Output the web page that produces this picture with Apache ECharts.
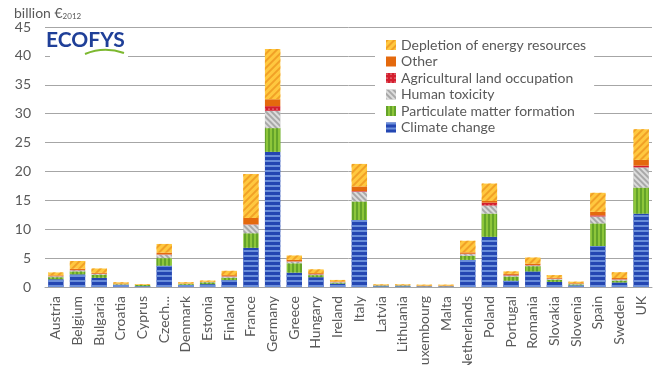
<!DOCTYPE html>
<html><head><meta charset="utf-8">
<script src="https://cdn.jsdelivr.net/npm/echarts@6/dist/echarts.min.js"></script>
<style>html,body{margin:0;padding:0;background:#fff}#c{width:670px;height:365px}</style>
</head><body><div id="c"></div>
<script>
const countries = ['Austria','Belgium','Bulgaria','Croatia','Cyprus','Czech...','Denmark','Estonia','Finland','France','Germany','Greece','Hungary','Ireland','Italy','Latvia','Lithuania','Luxembourg','Malta','Netherlands','Poland','Portugal','Romania','Slovakia','Slovenia','Spain','Sweden','UK'];
const climate   = [1.35,2.2,1.6,0.35,0.15,3.7,0.35,0.5,1.2,6.8,23.4,2.5,1.7,0.6,11.6,0.15,0.15,0.1,0.1,4.7,8.7,1.1,2.7,0.9,0.3,7.1,0.8,12.7];
const particulate = [0.35,0.5,0.5,0.1,0.2,1.3,0.15,0.3,0.4,2.5,4.1,1.6,0.35,0.15,3.2,0.1,0.1,0.02,0.02,0.7,4.0,0.7,0.9,0.35,0.15,3.9,0.3,4.5];
const toxicity  = [0.15,0.2,0.15,0.05,0,0.6,0.05,0.05,0.2,1.5,3.0,0.3,0.15,0.1,1.7,0.05,0.05,0.03,0.03,0.3,1.4,0.2,0.15,0.15,0.1,1.2,0.2,3.5];
const agri      = [0.02,0.05,0.05,0.01,0.01,0.05,0.02,0.01,0.05,0.05,0.8,0.05,0.05,0.02,0.1,0.01,0.01,0,0,0.05,0.5,0.1,0.05,0.05,0.02,0.2,0.05,0.3];
const other     = [0.15,0.2,0.15,0.1,0.02,0.3,0.05,0.05,0.2,1.1,1.2,0.25,0.15,0.1,0.8,0.05,0.05,0.1,0.1,0.25,0.3,0.2,0.25,0.15,0.1,0.6,0.2,1.0];
const depletion = [0.5,1.35,0.75,0.2,0.12,1.5,0.2,0.2,0.75,7.6,8.7,0.75,0.65,0.25,3.9,0.1,0.1,0.15,0.15,2.0,3.0,0.4,1.05,0.45,0.25,3.3,1.0,5.3];
const yTicks = [0,5,10,15,20,25,30,35,40,45];

const names = ['Climate change','Particulate matter formation','Human toxicity','Agricultural land occupation','Other','Depletion of energy resources'];
const styles = [
  {color:'#2446B2', decal:{symbol:'rect',symbolSize:1,symbolKeepAspect:false,color:'#6A8EDA',dashArrayX:[1,0],dashArrayY:[1.5,2.3]}},
  {color:'#8DC63A', decal:{symbol:'rect',symbolSize:1,symbolKeepAspect:false,color:'#64A32A',dashArrayX:[1.4,2],dashArrayY:[1,0]}},
  {color:'#A8A8A8', decal:{symbol:'rect',symbolSize:1,symbolKeepAspect:false,color:'rgba(255,255,255,0.6)',dashArrayX:[1,0],dashArrayY:[1.5,2],rotation:Math.PI/4}},
  {color:'#D41E2E', decal:{symbol:'circle',symbolSize:0.6,color:'#ffffff',dashArrayX:[2,2],dashArrayY:[2,2]}},
  {color:'#E4690D'},
  {color:'#FFC83F', decal:{symbol:'rect',symbolSize:1,symbolKeepAspect:false,color:'#F1A126',dashArrayX:[1,0],dashArrayY:[1.3,2.2],rotation:-Math.PI/4}}
];
const dataArr = [climate, particulate, toxicity, agri, other, depletion];

const chart = echarts.init(document.getElementById('c'), null, {renderer:'canvas'});
const font = 'Lato, "Open Sans", sans-serif';
chart.setOption({
  animation:false,
  textStyle:{fontFamily:font},
  grid:{left:45,right:18,top:27,bottom:78,outerBoundsMode:'none',containLabel:false},
  legend:{
    orient:'vertical', left:375, top:34, padding:[4,8,4,11],
    backgroundColor:'#ffffff', icon:'rect', itemWidth:10, itemHeight:10, itemGap:2.5,
    textStyle:{fontSize:14,color:'#595959',lineHeight:13,fontFamily:font},
    data:names.slice().reverse()
  },
  xAxis:{
    type:'category', data:countries,
    axisLine:{lineStyle:{color:'#A6A6A6'}}, axisTick:{show:false},
    axisLabel:{rotate:90,interval:0,fontSize:14,color:'#595959',margin:9,fontFamily:font}
  },
  yAxis:{
    type:'value', min:yTicks[0], max:yTicks[yTicks.length-1], interval:5,
    axisLine:{show:false}, axisTick:{show:false},
    splitLine:{lineStyle:{color:'#A6A6A6'}},
    axisLabel:{fontSize:14,color:'#595959',margin:14,fontFamily:font}
  },
  series: names.map((n,i)=>({
    name:n, type:'bar', stack:'total', data:dataArr[i], barCategoryGap:'29%',
    itemStyle:styles[i]
  })),
  graphic:[
    {type:'text', left:14, top:6, style:{text:'{a|billion €}{s|2012}', fill:'#595959', font:'14px '+font,
      rich:{a:{fontSize:14,fill:'#595959',fontFamily:font,lineHeight:16,verticalAlign:'bottom'},
            s:{fontSize:8,fill:'#595959',fontFamily:font,lineHeight:16,verticalAlign:'bottom'}}}},
    {type:'rect', shape:{x:50,y:32,width:78,height:26}, style:{fill:'#ffffff'}, z:10},
    {type:'text', left:46, top:30, z:11, style:{text:'ECOFYS', fill:'#1F3F98', font:'bold 21px '+font}},
    {type:'bezierCurve', z:11, shape:{x1:85,y1:54,x2:124,y2:53,cpx1:104,cpy1:46}, style:{stroke:'#7CB82F',lineWidth:2,fill:null}}
  ]
});
</script></body></html>
